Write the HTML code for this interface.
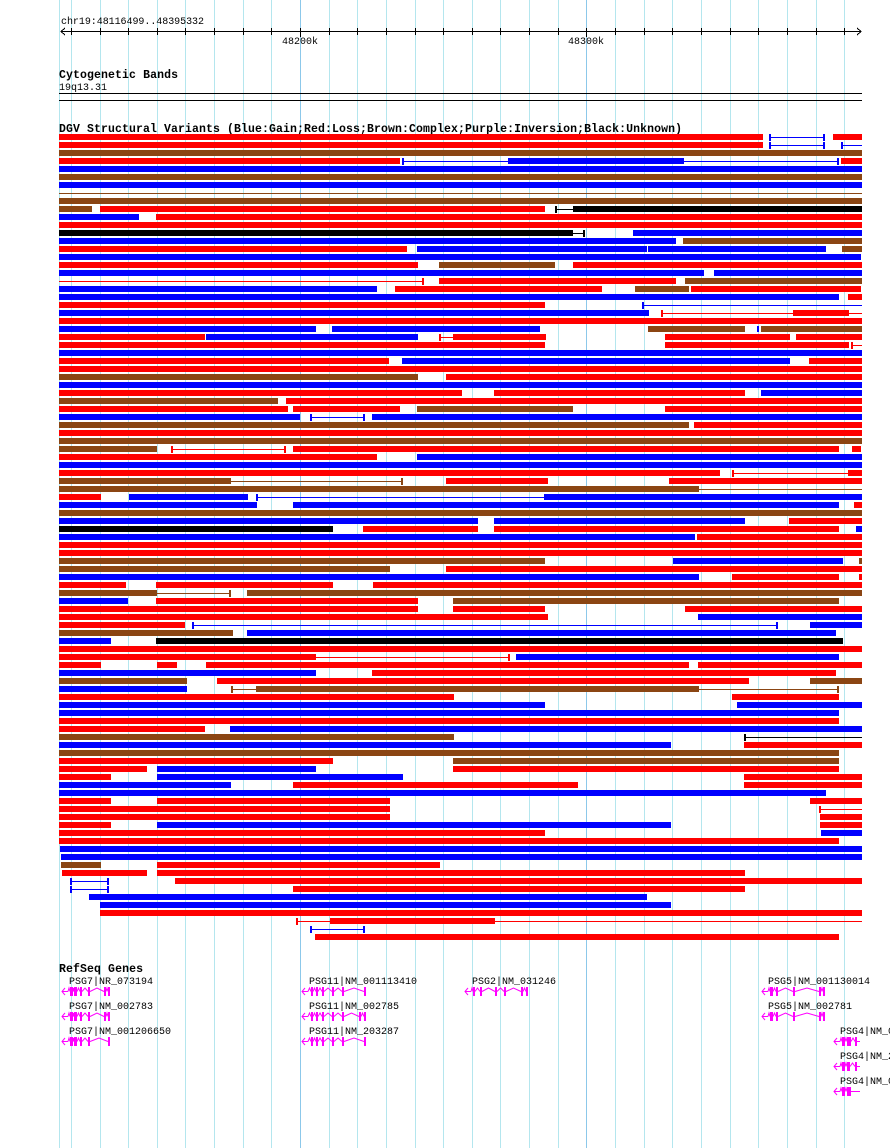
<!DOCTYPE html>
<html><head><meta charset="utf-8"><style>
html,body{margin:0;padding:0;background:#fff;width:890px;height:1148px;overflow:hidden}
svg{display:block}
text{font-family:"Liberation Mono","DejaVu Sans Mono",monospace}
</style></head><body>
<svg id="s" xmlns="http://www.w3.org/2000/svg" width="890" height="1148" viewBox="0 0 890 1148">
<rect width="890" height="1148" fill="#fff"/>
<g id="grid"></g>
<g id="ruler" stroke="#000" stroke-width="1" shape-rendering="crispEdges">
<line x1="61" y1="31.5" x2="861" y2="31.5"/>
<polyline points="65,28 61,31.5 65,35" fill="none"/>
<polyline points="857,28 861,31.5 857,35" fill="none"/>
</g>
<text x="61" y="24" font-size="10" textLength="143">chr19:48116499..48395332</text>
<text x="282" y="44" font-size="10">48200k</text>
<text x="568" y="44" font-size="10">48300k</text>
<text x="59" y="78" font-size="11.5" font-weight="bold" textLength="119">Cytogenetic Bands</text>
<text x="59" y="90" font-size="10">19q13.31</text>
<rect x="59" y="93" width="803" height="1" fill="#000"/>
<rect x="59" y="100" width="803" height="1" fill="#000"/>
<text x="59" y="132" font-size="11.5" font-weight="bold" textLength="623">DGV Structural Variants (Blue:Gain;Red:Loss;Brown:Complex;Purple:Inversion;Black:Unknown)</text>
<g id="bars" shape-rendering="crispEdges"></g>
<text x="59" y="972" font-size="11.5" font-weight="bold" textLength="84">RefSeq Genes</text>
<g font-size="10">
<text x="69" y="984">PSG7|NR_073194</text>
<text x="69" y="1009">PSG7|NM_002783</text>
<text x="69" y="1034">PSG7|NM_001206650</text>
<text x="309" y="984">PSG11|NM_001113410</text>
<text x="309" y="1009">PSG11|NM_002785</text>
<text x="309" y="1034">PSG11|NM_203287</text>
<text x="472" y="984">PSG2|NM_031246</text>
<text x="768" y="984">PSG5|NM_001130014</text>
<text x="768" y="1009">PSG5|NM_002781</text>
<text x="840" y="1034">PSG4|NM_002780</text>
<text x="840" y="1059">PSG4|NM_213633</text>
<text x="840" y="1084">PSG4|NM_001276495</text>
</g>
<g id="genes" fill="#ff00ff" stroke="#ff00ff"></g>
</svg>
<script>
var NS="http://www.w3.org/2000/svg";
function el(p,t,a){var e=document.createElementNS(NS,t);for(var k in a)e.setAttribute(k,a[k]);p.appendChild(e);return e;}
var grid=document.getElementById('grid'),ruler=document.getElementById('ruler');
for(var k=-8;k<=19;k++){var x=Math.round(300+k*28.64)+0.5;var major=(k==0||k==10);
el(grid,'line',{x1:x,y1:0,x2:x,y2:1148,stroke:major?'#8cc8ea':'#b4e6ee','stroke-width':1});
el(ruler,'line',{x1:x,y1:28,x2:x,y2:major?37:35});}
el(grid,'line',{x1:59.5,y1:0,x2:59.5,y2:1148,stroke:'#b4e6ee'});
var C={r:'#ff0000',b:'#0000ff',n:'#8b4513',k:'#000000'};
var D={
134:"r59-763 lb769-825:3 r833-862",142:"r59-763 lb769-825:3 lb841-862:1",150:"n59-862",
158:"r59-400 lb402-508:1 b508-684 lb684-839:2 r841-862",166:"b59-862",174:"n59-862",182:"b59-862",
190:"ln59-862:0",198:"n59-862",206:"n59-92 r100-545 lk555-573:1 k573-862",214:"b59-139 r156-862",
222:"r59-862",230:"k59-573 lk573-585:2 b633-862",238:"b59-676 n683-862",246:"r59-407 b417-647 b648-826 n842-862",
254:"b59-861",262:"r59-418 n439-555 r573-862",270:"b59-704 b714-862",278:"lr59-424:2 r439-676 n685-862",
286:"b59-377 r395-602 n635-689 r691-861",294:"b59-839 r848-862",302:"r59-545 lb642-862:1",
310:"b59-649 lr661-862:1 r793-849",318:"r59-862",326:"b59-316 b332-540 n648-745 b757-759 n761-862",
334:"r59-205 b206-418 lr439-453:1 r453-546 r665-790 r796-862",342:"r59-545 r665-849 lr851-862:1",
350:"b59-862",358:"r59-389 b402-790 r809-862",366:"r59-862",374:"n59-418 r446-862",382:"b59-862",
390:"r59-462 r494-745 b761-862",398:"n59-278 r286-862",406:"r59-288 r293-400 n417-573 r665-862",
414:"b59-300 lb310-365:3 b372-862",422:"n59-689 r694-862",430:"r59-862",438:"n59-862",
446:"n59-157 lr171-286:3 r293-839 r852-861",454:"r59-377 b417-862",462:"b59-862",
470:"r59-720 lr732-848:1 r848-862",478:"n59-231 ln231-403:2 r446-548 r669-862",486:"n59-699 ln699-862:0",
494:"r59-101 b129-248 lb256-544:1 b544-862",502:"b59-257 b293-839 r854-862",510:"n59-862",
518:"b59-478 b494-745 r789-862",526:"k59-333 r363-478 r494-839 b856-862",534:"b59-695 r697-862",
542:"r59-862",550:"r59-862",558:"n59-545 b673-843 n859-862",566:"n59-390 r446-862",
574:"b59-699 r732-839 r859-862",582:"r59-126 r156-333 r373-862",590:"n59-157 ln157-231:2 n247-862",
598:"b59-128 r156-418 n453-839",606:"r59-418 r453-545 r685-862",614:"r59-548 b698-862",
622:"r59-185 lb192-778:3 b810-862",630:"n59-233 b247-836",638:"b59-111 k156-843",646:"r59-862",
654:"r59-316 lr316-510:2 b516-839",662:"r59-101 r157-177 r206-689 r698-862",670:"b59-316 r372-836",
678:"n59-187 r217-749 n810-862",686:"b59-187 ln231-256:1 n256-699 ln699-839:2",694:"r59-454 r732-839",
702:"b59-545 b737-862",710:"b59-839",718:"r59-839",726:"r59-205 b230-862",734:"n59-454 lk744-862:1",
742:"b59-671 r744-862",750:"n59-839",758:"r59-333 n453-839",766:"r59-147 b157-316 r453-839",
774:"r59-111 b157-403 r744-862",782:"b59-231 r293-578 r744-862",790:"b59-826",
798:"r59-111 r157-390 r810-862",806:"r59-390 lr819-862:1",814:"r59-390 r820-862",
822:"r59-111 b157-671 r820-862",830:"r59-545 b821-862",838:"r59-839",846:"b60-862",854:"b61-862",
862:"n61-101 r157-440",870:"r62-147 r157-745",878:"lb70-109:3 r175-862",886:"lb70-109:3 r293-745",
894:"b89-647",902:"b100-671",910:"r100-862",918:"lr296-862:1 r330-495",926:"lb310-365:3",934:"r315-839"};
var bars=document.getElementById('bars');
for(var y in D){y=+y;D[y].split(' ').forEach(function(s){
 var line=s[0]=='l';if(line)s=s.slice(1);var c=C[s[0]];var m=s.slice(1).split(':');var xs=m[0].split('-');
 var x1=+xs[0],x2=+xs[1];
 if(!line){el(bars,'rect',{x:x1,y:y,width:x2-x1,height:6,fill:c});}
 else{var cap=+m[1];el(bars,'rect',{x:x1,y:y+3,width:x2-x1,height:1,fill:c});
  if(cap&1)el(bars,'rect',{x:x1,y:y,width:2,height:7,fill:c});
  if(cap&2)el(bars,'rect',{x:x2-2,y:y,width:2,height:7,fill:c});}
});}
var G=document.getElementById('genes');
function gene(x1,x2,yc,ex){
 el(G,'line',{x1:x1,y1:yc+0.5,x2:x1+6,y2:yc+0.5,'stroke-width':1,fill:'none'});
 el(G,'polyline',{points:(x1+3)+','+(yc-3)+' '+x1+','+(yc+0.5)+' '+(x1+3)+','+(yc+4),fill:'none','stroke-width':1});
 var prev=x1+6;
 ex.forEach(function(e){var x=e[0],w=e[1]||2;
  var mid=(prev+x)/2;
  el(G,'polyline',{points:prev+','+(yc+0.5)+' '+mid+','+(yc-3)+' '+x+','+(yc+0.5),fill:'none','stroke-width':1});
  el(G,'rect',{x:x,y:yc-4,width:w,height:9,stroke:'none'});prev=x+w;});
 if(prev<x2)el(G,'line',{x1:prev,y1:yc+0.5,x2:x2,y2:yc+0.5,'stroke-width':1});
}
var p7=[[70,3],[74,3],[80,2],[88,2],[104,2],[108,2]];
gene(62,110,991,p7);gene(62,110,1016,p7);gene(62,110,1041,[[70,3],[74,3],[80,2],[88,2],[108,2]]);
var p11=[[311,2],[316,2],[322,2],[332,2],[342,2],[364,2]];
gene(302,366,991,p11);gene(302,366,1016,[[311,2],[316,2],[322,2],[332,2],[342,2],[359,2],[364,2]]);gene(302,366,1041,p11);
gene(465,528,991,[[473,2],[480,2],[495,2],[504,2],[521,2],[526,2]]);
var p5=[[770,3],[776,2],[793,2],[819,2],[823,2]];
gene(762,825,991,p5);gene(762,825,1016,p5);
gene(834,860,1041,[[842,3],[847,4],[855,2]]);gene(834,860,1066,[[842,3],[847,3],[855,2]]);gene(834,860,1091,[[842,3],[847,4]]);
</script>
</body></html>
